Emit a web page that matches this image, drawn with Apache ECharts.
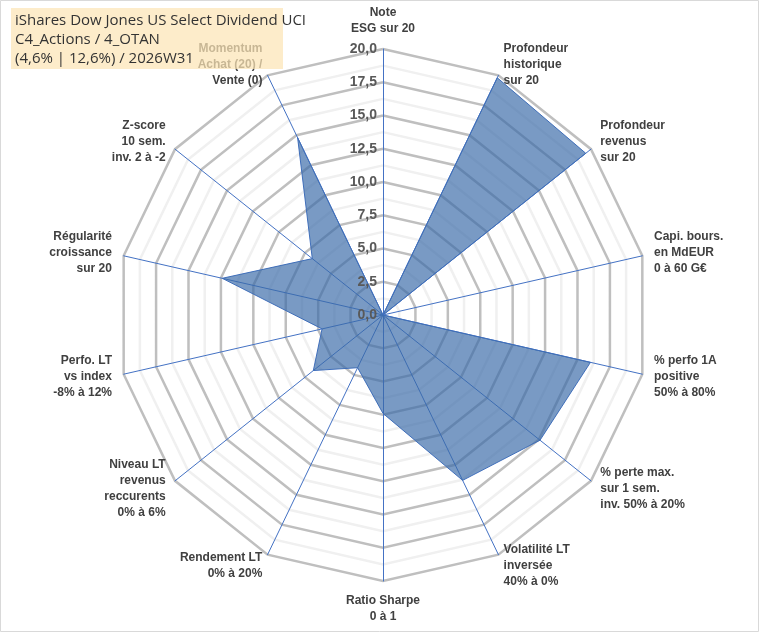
<!DOCTYPE html>
<html>
<head>
<meta charset="utf-8">
<script src="https://cdn.jsdelivr.net/npm/echarts@6/dist/echarts.min.js"></script>
<style>
  html, body { margin: 0; padding: 0; background: #fff; }
  #chart { width: 760px; height: 633px; }
</style>
</head>
<body>
<div id="chart"></div>
<script>
// axes of the radar, clockwise from the top
const indicators = [
    'Note\nESG sur 20',
    'Profondeur\nhistorique\nsur 20',
    'Profondeur\nrevenus\nsur 20',
    'Capi. bours.\nen MdEUR\n0 à 60 G€',
    '% perfo 1A\npositive\n50% à 80%',
    '% perte max.\nsur 1 sem.\ninv. 50% à 20%',
    'Volatilité LT\ninversée\n40% à 0%',
    'Ratio Sharpe\n0 à 1',
    'Rendement LT\n0% à 20%',
    'Niveau LT\nrevenus\nreccurents\n0% à 6%',
    'Perfo. LT\nvs index\n-8% à 12%',
    'Régularité\ncroissance\nsur 20',
    'Z-score\n10 sem.\ninv. 2 à -2',
    'Momentum\nAchat (20) /\nVente (0)'
];
const scores = [0, 19.8, 19.5, 0, 16, 15.1, 13.8, 7.4, 4.4, 6.7, 4.7, 12.4, 6.8, 14.8];
const maxScore = 20;
const step = 2.5;
const titleLines = ['iShares Dow Jones US Select Dividend UCI', 'C4_Actions / 4_OTAN', '(4,6% | 12,6%) / 2026W31'];

//echarts雷达图是逆时针，这里反转成顺时针
const clockwise = arr => [arr[0]].concat(arr.slice(1).reverse());

const myChart = echarts.init(document.getElementById('chart'));
const center = [383, 315];
const radius = 266;

const option = {
    backgroundColor: '#fff',
    radar: {
        center: center,
        radius: radius,
        startAngle: 90,
        shape: 'polygon',
        splitNumber: 16,
        indicator: clockwise(indicators).map(n => ({ name: n, min: 0, max: maxScore })),
        axisName: {
            color: '#404040',
            fontWeight: 'bold',
            fontSize: 12,
            fontFamily: 'Liberation Sans',
            lineHeight: 16
        },
        nameGap: 12,
        axisLine: { lineStyle: { color: '#4472c4', width: 1 } },
        axisTick: { show: false },
        axisLabel: { show: false },
        splitArea: { show: false },
        splitLine: {
            lineStyle: {
                //主次网格线交替
                color: ['#bfbfbf', '#f0f0f0'],
                width: 2.5
            }
        }
    },
    polar: { center: center, radius: radius },
    angleAxis: { show: false, startAngle: 90, min: 0, max: 360 },
    radiusAxis: {
        min: 0,
        max: maxScore,
        interval: step,
        axisLine: { show: false },
        axisTick: { show: false },
        splitLine: { show: false },
        axisLabel: {
            color: '#595959',
            fontWeight: 'bold',
            fontSize: 14,
            fontFamily: 'Liberation Sans',
            margin: 6,
            formatter: v => v.toFixed(1).replace('.', ',')
        },
        z: 5
    },
    series: [{
        type: 'radar',
        symbol: 'none',
        lineStyle: { color: '#4472c4', width: 1 },
        areaStyle: { color: '#3a6aa8', opacity: 0.68 },
        data: [{ value: clockwise(scores) }]
    }],
    graphic: [
        {
            type: 'rect',
            shape: { x: 0.5, y: 0.5, width: 758, height: 631 },
            style: { fill: 'none', stroke: '#d9d9d9', lineWidth: 1 },
            z: 100
        },
        {
            type: 'rect',
            shape: { x: 11, y: 8, width: 272, height: 61 },
            style: { fill: 'rgba(252,229,182,0.72)' },
            z: 100
        },
        {
            type: 'text',
            left: 15,
            top: 11,
            style: {
                text: titleLines.join('\n'),
                fill: '#333333',
                font: '15px "Open Sans"',
                lineHeight: 19
            },
            z: 101
        }
    ]
};
myChart.setOption(option);
</script>
</body>
</html>
